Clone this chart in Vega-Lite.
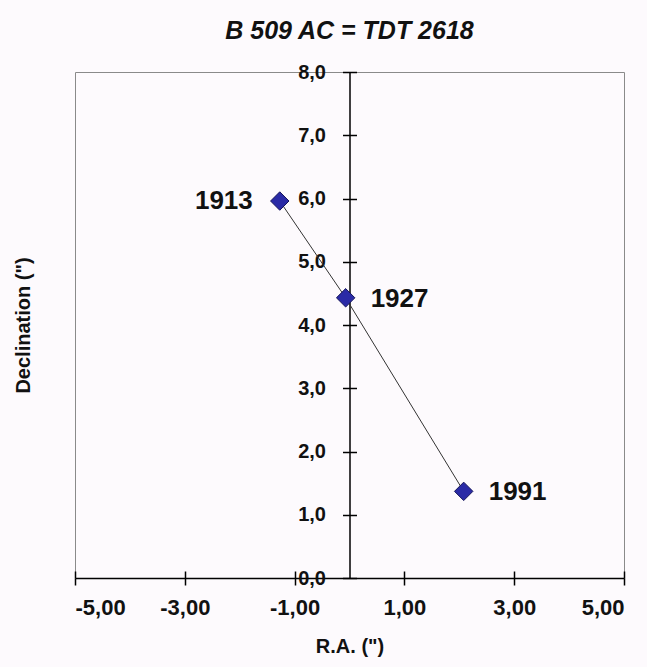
{
  "$schema": "https://vega.github.io/schema/vega-lite/v6.json",
  "autosize": {"type": "none"},
  "padding": {"left": 75, "top": 72, "right": 23, "bottom": 89},
  "width": 549,
  "height": 506,
  "background": "#fdfafd",
  "title": {"text": "B 509 AC = TDT 2618", "fontSize": 25, "fontStyle": "italic", "fontWeight": "bold", "font": "Liberation Sans", "color": "#111111", "offset": 18, "anchor": "middle", "frame": "group"},
  "config": {
    "view": {"stroke": "#8a8a8a", "strokeWidth": 1},
    "axis": {"grid": false, "labelFont": "Liberation Sans", "titleFont": "Liberation Sans", "labelColor": "#111111", "titleColor": "#111111", "domainColor": "#000000", "tickColor": "#000000"}
  },
  "data": {"values": [
    {"year": "1913", "ra": -1.27, "dec": 5.96},
    {"year": "1927", "ra": -0.07, "dec": 4.43},
    {"year": "1991", "ra": 2.08, "dec": 1.37}
  ]},
  "resolve": {"axis": {"x": "independent", "y": "independent"}},
  "layer": [
    {
      "mark": {"type": "line", "color": "#333333", "strokeWidth": 1},
      "encoding": {
        "x": {"field": "ra", "type": "quantitative", "scale": {"domain": [-5, 5], "nice": false, "zero": false},
          "axis": {"orient": "bottom", "values": [-5, -3, -1, 1, 3, 5], "labelExpr": "replace(replace(format(datum.value, '.2f'), '.', ','), '\u2212', '-')", "labelFontSize": 22, "labelFontWeight": "bold", "labelPadding": 12, "tickSize": 7, "domainWidth": 1.5, "tickWidth": 1.5, "title": "R.A. (\")", "titleFontSize": 20, "titleFontWeight": "bold", "titlePadding": 18}},
        "y": {"field": "dec", "type": "quantitative", "scale": {"domain": [0, 8], "nice": false},
          "axis": {"orient": "left", "offset": -274.5, "values": [0, 1, 2, 3, 4, 5, 6, 7, 8], "labelExpr": "replace(format(datum.value, '.1f'), '.', ',')", "labelFontSize": 20, "labelFontWeight": "bold", "labelPadding": 17, "tickSize": 7, "domainWidth": 1.5, "tickWidth": 1.5, "title": null}},
        "order": {"field": "year", "type": "ordinal"}
      }
    },
    {
      "mark": {"type": "point", "shape": "diamond", "filled": true, "size": 340, "fill": "#2a2aa6", "stroke": "#14145a", "strokeWidth": 1, "opacity": 1},
      "encoding": {
        "x": {"field": "ra", "type": "quantitative", "axis": {"orient": "top", "offset": -506, "values": [-5, -3, -1, 1, 3, 5], "labels": false, "domain": false, "tickSize": 7, "tickWidth": 1.5, "title": null}},
        "y": {"field": "dec", "type": "quantitative", "axis": {"orient": "right", "offset": -274.5, "values": [0, 1, 2, 3, 4, 5, 6, 7, 8], "labels": false, "domain": false, "tickSize": 7, "tickWidth": 1.5, "title": null}}
      }
    },
    {
      "transform": [{"filter": "datum.year == '1913'"}],
      "mark": {"type": "text", "align": "right", "baseline": "middle", "dx": -27, "dy": 0, "fontSize": 26, "fontWeight": "bold", "font": "Liberation Sans", "color": "#111111"},
      "encoding": {
        "x": {"field": "ra", "type": "quantitative", "axis": null},
        "y": {"field": "dec", "type": "quantitative", "axis": {"orient": "left", "offset": 0, "labels": false, "ticks": false, "domain": false, "title": "Declination (\")", "titleFontSize": 20, "titleFontWeight": "bold", "titlePadding": 42}},
        "text": {"field": "year"}
      }
    },
    {
      "transform": [{"filter": "datum.year != '1913'"}],
      "mark": {"type": "text", "align": "left", "baseline": "middle", "dx": 25, "dy": 1, "fontSize": 26, "fontWeight": "bold", "font": "Liberation Sans", "color": "#111111"},
      "encoding": {
        "x": {"field": "ra", "type": "quantitative", "axis": null},
        "y": {"field": "dec", "type": "quantitative", "axis": null},
        "text": {"field": "year"}
      }
    }
  ]
}
